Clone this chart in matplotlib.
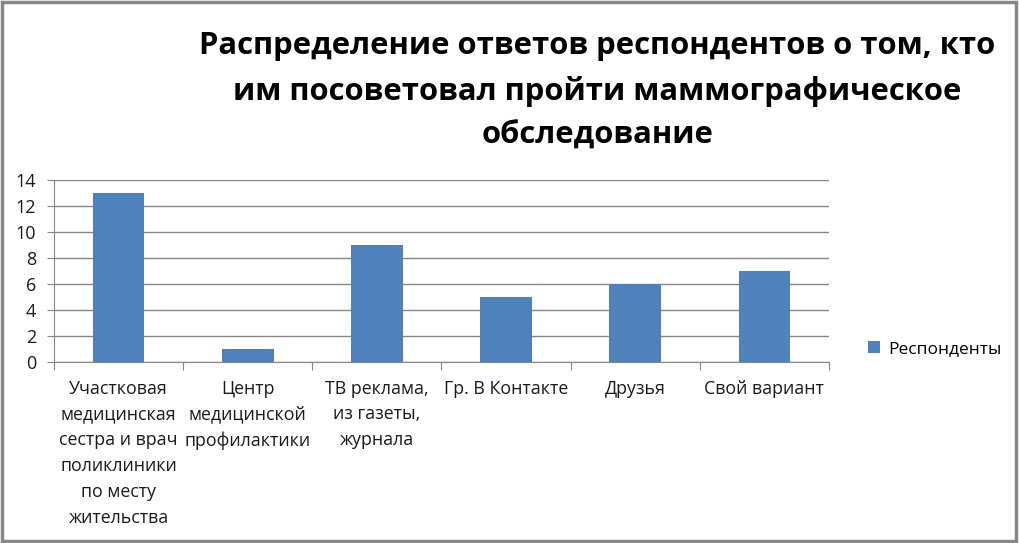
import numpy as np
from matplotlib import pyplot as plt
from matplotlib.patches import Rectangle

categories = ['Участковая\nмедицинская\nсестра и врач\nполиклиники\nпо месту\nжительства',
              'Центр\nмедицинской\nпрофилактики',
              'ТВ реклама,\nиз газеты,\nжурнала',
              'Гр. В Контакте',
              'Друзья',
              'Свой вариант']
values = [13, 1, 9, 5, 6, 7]
series_name = 'Респонденты'
title = 'Распределение ответов респондентов о том, кто\nим посоветовал пройти маммографическое\nобследование'

fam = ['Open Sans', 'DejaVu Sans']
plt.rcParams['font.family'] = fam

blue = '#4F81BD'
grey = '#868686'

fig = plt.figure(figsize=(10.19, 5.43), dpi=100)
ax = fig.add_axes((0.053, 0.3333, 0.7605, 0.3352))

x = np.arange(len(values))
ax.bar(x, values, width=0.4, color=blue, label=series_name, zorder=3)
ax.set_xlim(-0.5, len(values) - 0.5)
ax.set_ylim(0, 14)
ax.set_yticks(range(0, 15, 2))
ax.yaxis.grid(True, color=grey, linewidth=1, zorder=0)

for s in ['top', 'right']:
    ax.spines[s].set_visible(False)
ax.spines['left'].set_color(grey)
ax.spines['bottom'].set_color(grey)

# ticks between categories
ax.set_xticks(np.arange(len(values) + 1) - 0.5)
ax.set_xticklabels([])
ax.tick_params(axis='x', length=6, color=grey)
ax.tick_params(axis='y', length=5, color=grey, labelsize=13, pad=8)
for t in ax.get_yticklabels():
    t.set_color('#1a1a1a')

for i, c in enumerate(categories):
    ax.text(i, -1.35, c, ha='center', va='top', fontsize=12.8, linespacing=1.56,
            color='#1a1a1a', transform=ax.transData)

fig.text(0.586, 0.942, title, ha='center', va='top', fontsize=22.3, fontweight='bold',
         linespacing=1.6, color='black')

ax.legend(loc='center left', bbox_to_anchor=(1.03, 0.07), frameon=False,
          fontsize=12.5, handlelength=0.7, handleheight=0.7, handletextpad=0.5)

fig.patches.append(Rectangle((0.0015, 0.003), 0.996, 0.994, transform=fig.transFigure,
                             fill=False, edgecolor=grey, linewidth=2.5))

plt.savefig('out.png', dpi=100)
